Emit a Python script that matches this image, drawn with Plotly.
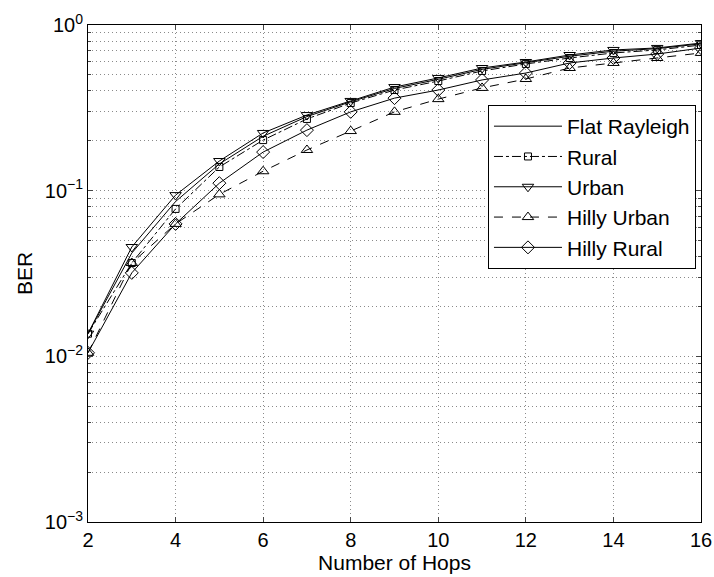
import plotly.graph_objects as go

hops = [2, 3, 4, 5, 6, 7, 8, 9, 10, 11, 12, 13, 14, 15, 16]
flat_rayleigh = [0.0137, 0.0420, 0.0860, 0.145, 0.213, 0.280, 0.344, 0.414, 0.470, 0.540, 0.592, 0.648, 0.695, 0.720, 0.770]
rural = [0.0137, 0.0366, 0.0776, 0.139, 0.202, 0.271, 0.338, 0.405, 0.459, 0.528, 0.582, 0.632, 0.678, 0.707, 0.757]
urban = [0.0137, 0.0457, 0.0940, 0.151, 0.223, 0.286, 0.348, 0.422, 0.479, 0.550, 0.598, 0.659, 0.707, 0.727, 0.778]
hilly_urban = [0.0105, 0.0366, 0.0630, 0.095, 0.131, 0.176, 0.229, 0.299, 0.357, 0.417, 0.472, 0.550, 0.590, 0.632, 0.678]
hilly_rural = [0.0105, 0.0319, 0.0630, 0.111, 0.171, 0.232, 0.299, 0.362, 0.405, 0.466, 0.513, 0.590, 0.632, 0.668, 0.726]

y_tickvals = [1e-3, 1e-2, 1e-1, 1]
y_ticktext = ["10<sup>−3</sup>", "10<sup>−2</sup>", "10<sup>−1</sup>", "10<sup>0</sup>"]
x_tickvals = [2, 4, 6, 8, 10, 12, 14, 16]

fig = go.Figure()
fig.add_trace(go.Scatter(x=hops, y=flat_rayleigh, name="Flat Rayleigh", mode="lines",
                         line=dict(color="black", width=1)))
fig.add_trace(go.Scatter(x=hops, y=rural, name="Rural", mode="lines+markers",
                         line=dict(color="black", width=1, dash="dashdot"),
                         marker=dict(symbol="square-open", size=7, color="black", line=dict(width=1))))
fig.add_trace(go.Scatter(x=hops, y=urban, name="Urban", mode="lines+markers",
                         line=dict(color="black", width=1),
                         marker=dict(symbol="triangle-down-open", size=10, color="black", line=dict(width=1))))
fig.add_trace(go.Scatter(x=hops, y=hilly_urban, name="Hilly Urban", mode="lines+markers",
                         line=dict(color="black", width=1, dash="dash"),
                         marker=dict(symbol="triangle-up-open", size=10, color="black", line=dict(width=1))))
fig.add_trace(go.Scatter(x=hops, y=hilly_rural, name="Hilly Rural", mode="lines+markers",
                         line=dict(color="black", width=1),
                         marker=dict(symbol="diamond-open", size=10, color="black", line=dict(width=1))))

grid_color = "#8a8a8a"
grid_dash = "1px,3px"
fig.update_layout(
    width=714, height=577,
    margin=dict(l=88, r=13, t=25, b=55, autoexpand=False),
    paper_bgcolor="white", plot_bgcolor="white",
    font=dict(family="Liberation Sans, Arial, sans-serif", color="black", size=20),
    legend=dict(x=0.6525, y=0.839, xanchor="left", yanchor="top",
                bordercolor="black", borderwidth=1, bgcolor="white",
                font=dict(size=21), tracegroupgap=0, itemwidth=68),
    xaxis=dict(range=[2, 16], tickvals=x_tickvals, ticks="inside", ticklen=5,
               showline=True, linecolor="black", linewidth=1, mirror="ticks",
               showgrid=True, gridcolor=grid_color, griddash=grid_dash, gridwidth=1,
               zeroline=False, tickfont=dict(size=20), ticklabeloverflow="allow",
               automargin=False,
               title=dict(text="Number of Hops", font=dict(size=21), standoff=2)),
    yaxis=dict(type="log", range=[-3, 0], tickvals=y_tickvals, ticktext=y_ticktext,
               ticks="inside", ticklen=5,
               showline=True, linecolor="black", linewidth=1, mirror="ticks",
               showgrid=True, gridcolor=grid_color, griddash=grid_dash, gridwidth=1,
               zeroline=False, tickfont=dict(size=20), ticklabeloverflow="allow",
               automargin=False,
               minor=dict(ticks="inside", ticklen=3, showgrid=True, gridcolor=grid_color,
                          griddash=grid_dash, gridwidth=1, dtick="D1"),
               title=dict(text="BER", font=dict(size=21), standoff=6)),
)

fig.write_html("out.html")
